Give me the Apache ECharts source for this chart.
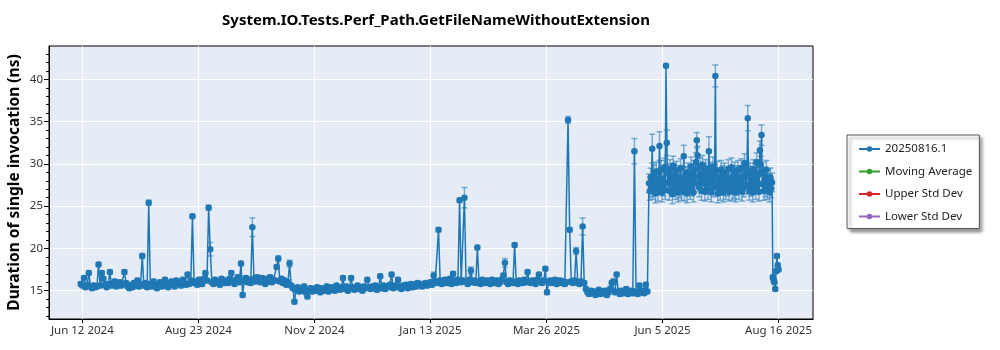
<!DOCTYPE html>
<html><head><meta charset="utf-8">
<script src="https://cdn.jsdelivr.net/npm/echarts@6/dist/echarts.min.js"></script>
<style>html,body{margin:0;padding:0;background:#fff}#c{width:1000px;height:350px}</style>
</head><body><div id="c"></div>
<script>
const chartTitle = 'System.IO.Tests.Perf_Path.GetFileNameWithoutExtension';
const yAxisTitle = 'Duration of single invocation (ns)';
const seriesNames = ['20250816.1', 'Moving Average', 'Upper Std Dev', 'Lower Std Dev'];
const seriesColors = ['#1f77b4', '#2ca02c', '#d62728', '#9467bd'];
const xTickLabels = ['Jun 12 2024', 'Aug 23 2024', 'Nov 2 2024', 'Jan 13 2025', 'Mar 26 2025', 'Jun 5 2025', 'Aug 16 2025'];
const firstTickDate = '2024-06-12';
const lastTickDate = '2025-08-16';
const yTicks = [15, 20, 25, 30, 35, 40];
const yMinorTicks = [12,13,14,16,17,18,19,21,22,23,24,26,27,28,29,31,32,33,34,36,37,38,39,41,42,43];

// daily runs 2024-06-11 .. 2025-05-27
const baseStart = '2024-06-11';
const baseVals = [
15.8,15.6,16.5,15.4,15.7,17.1,15.5,15.3,15.6,15.4,
15.5,18.1,15.6,17.1,16.4,15.7,15.4,15.8,17.2,15.6,
15.9,16.1,15.5,15.7,16.0,15.6,15.8,17.2,15.9,15.5,
15.3,15.7,15.4,15.9,15.6,16.2,15.5,15.8,19.1,15.6,
15.9,15.4,25.4,15.8,15.5,16.1,15.6,15.3,15.7,16.0,
15.5,15.8,16.3,15.6,15.4,15.9,16.1,15.7,15.5,16.2,
15.8,16.0,15.6,16.3,15.9,15.7,16.9,15.8,16.2,23.8,
15.9,16.1,15.7,16.3,16.0,15.8,16.4,17.1,16.2,24.8,
19.9,16.0,15.8,16.3,15.9,16.1,15.7,16.4,16.0,15.9,
16.2,15.9,16.4,17.1,16.1,15.8,16.3,16.6,16.0,18.2,
14.5,16.2,16.5,16.0,16.3,15.9,22.5,16.4,16.1,16.6,
16.2,16.0,16.5,16.3,15.8,16.4,16.1,16.6,16.0,16.3,
16.2,17.8,18.8,16.1,16.4,15.9,16.2,15.7,16.0,18.2,
15.6,15.3,13.7,15.1,15.4,14.9,15.2,15.0,15.5,14.8,
14.3,15.1,15.3,14.9,15.2,15.0,15.4,15.1,14.8,15.3,
15.0,15.2,15.5,14.9,15.1,15.4,15.2,15.0,15.6,15.3,
15.1,15.4,16.5,15.2,15.5,15.0,15.3,16.5,15.4,15.1,
15.3,15.6,15.2,15.4,15.0,15.5,15.3,16.3,15.4,15.2,
15.5,15.3,15.6,15.1,15.4,16.7,15.3,15.6,15.2,15.5,
15.4,15.7,16.9,15.3,15.6,15.4,16.3,15.5,15.2,15.6,
15.4,15.7,15.3,15.6,15.8,15.4,15.7,15.5,15.9,15.6,
15.8,15.5,15.7,15.9,15.6,15.8,16.0,15.7,16.8,16.1,
15.9,22.2,16.2,15.8,16.1,16.3,15.9,16.0,16.4,15.8,
17.0,16.1,15.9,16.3,25.7,16.0,16.2,26.0,16.1,15.8,
16.3,17.4,16.0,16.2,15.9,20.1,16.1,15.8,16.3,16.0,
15.9,16.2,16.0,15.8,16.3,16.1,15.9,16.2,15.8,16.0,
16.3,16.8,18.3,16.0,15.8,16.2,16.0,15.9,20.4,16.1,
15.8,16.2,16.0,15.9,16.3,16.0,17.2,16.1,15.9,16.2,
16.0,15.8,16.3,16.9,16.1,15.9,16.2,17.6,14.8,16.0,
16.2,15.9,16.1,16.3,15.8,16.0,16.2,15.9,16.1,15.8,
16.0,35.2,22.2,16.1,15.9,16.2,19.7,16.0,15.8,16.1,
22.6,15.9,15.2,14.8,14.6,15.0,14.7,14.9,14.5,14.8,
15.1,14.6,14.9,14.7,15.0,14.5,14.8,15.2,15.9,16.1,
14.8,16.9,14.9,14.6,15.0,14.7,14.9,15.2,14.6,14.8,
15.0,14.7,31.5,14.9,14.6,15.6,14.8,15.0,14.7,15.7,14.9
];

// half-daily runs 2025-05-28 .. 2025-08-12
const highStart = '2025-05-28';
const highVals = [
27.7,26.8,28.4,27.2,31.8,26.9,28.8,27.5,26.5,29.1,
27.9,26.7,28.3,32.1,27.4,29.3,26.6,28.1,27.3,29.6,
26.9,41.6,32.5,27.8,28.9,26.8,29.4,27.6,28.5,26.4,
29.8,27.3,28.7,26.9,29.2,27.8,26.6,28.4,27.1,29.5,
26.8,28.2,27.4,30.9,26.7,28.6,27.9,26.5,29.0,27.6,
28.4,26.9,29.7,27.3,28.8,26.6,29.3,27.8,30.2,32.8,
31.0,28.5,27.2,29.6,28.1,26.8,29.9,27.7,28.9,26.7,
29.4,27.5,28.6,26.9,31.5,27.8,29.1,26.6,28.3,29.7,
27.2,28.8,40.4,27.6,29.2,26.5,28.4,27.9,26.8,29.3,
27.4,28.7,26.6,29.0,27.8,26.9,28.5,27.3,29.4,26.7,
28.1,27.5,29.6,26.8,28.3,27.0,29.1,26.6,28.7,27.4,
29.3,26.9,28.0,27.6,29.5,26.7,28.4,27.2,30.1,28.8,
27.5,29.2,35.4,28.6,26.8,29.0,27.3,28.5,26.6,29.4,
27.8,28.9,26.9,30.2,27.5,28.7,26.7,31.6,29.8,33.4,
27.6,29.1,26.8,28.5,27.2,29.3,26.9,28.2,27.7,26.6,
28.4,27.1,27.8
];

// half-daily runs 2025-08-12 12:00 .. 2025-08-16
const tailStart = '2025-08-12T12:00:00Z';
const tailVals = [16.6,16.2,16.0,15.2,17.3,19.1,18.0,17.5];

// error bar half-widths (ns)
const baseErr = 0.25;
const highErr = 1.1;
const errByDay = {
  37:0.3, 41:0.3, 78:0.3, 79:0.8, 105:1.1, 121:0.3, 128:0.4, 217:0.4, 236:1.2, 240:0.4,
  261:0.5, 300:0.4, 305:0.4, 309:1.0, 341:1.5,
  352:1.7, 356.5:1.7, 360.5:0.2, 361:1.5, 371.5:1.3, 379.5:0.9, 387:1.7, 391:1.3, 411:1.5, 419.5:1.2
};

const DAY = 86400000;
const t0 = Date.parse(firstTickDate);
const tickSpan = (Date.parse(lastTickDate) - t0) / DAY;
const xTickValues = xTickLabels.map((_, i) => i * tickSpan / (xTickLabels.length - 1));

const points = [];
function addRun(start, step, vals, defErr) {
  const s = (Date.parse(start) - t0) / DAY;
  vals.forEach((v, i) => {
    const x = Math.round((s + i * step) * 2) / 2;
    const e = errByDay[x] !== undefined ? errByDay[x] : defErr;
    points.push([x, v, e]);
  });
}
addRun(baseStart, 1, baseVals, baseErr);
addRun(highStart, 0.5, highVals, highErr);
addRun(tailStart, 0.5, tailVals, baseErr);

const FONT = 'Noto Sans';
const X_MIN = -20.6, X_MAX = 451.3, Y_MIN = 11.65, Y_MAX = 43.94;

const chart = echarts.init(document.getElementById('c'), null, {renderer: 'canvas'});
chart.setOption({
  animation: false,
  backgroundColor: '#ffffff',
  title: {
    text: chartTitle, left: 431, top: 8, textAlign: 'center',
    textStyle: {fontFamily: FONT, fontSize: 15, fontWeight: 'bold', color: '#000'}
  },
  grid: {left: 49, right: 187, top: 46, bottom: 31, show: true, backgroundColor: '#e5ecf6',
         borderColor: '#000', borderWidth: 1, containLabel: false, outerBoundsMode: 'none'},
  legend: {
    orient: 'vertical', left: 847, top: 135,
    data: seriesNames,
    itemWidth: 21, itemHeight: 7, itemGap: 10.5,
    padding: [8, 7, 6, 11],
    backgroundColor: '#fff', borderColor: '#555', borderWidth: 1,
    shadowColor: 'rgba(0,0,0,0.4)', shadowBlur: 3, shadowOffsetX: 3, shadowOffsetY: 3,
    textStyle: {fontFamily: FONT, fontSize: 11.5, color: '#222'}
  },
  xAxis: {
    type: 'value', min: X_MIN, max: X_MAX,
    axisLine: {show: true, onZero: false, lineStyle: {color: '#000', width: 1}},
    axisTick: {show: true, length: 4, lineStyle: {color: '#000'}, customValues: xTickValues},
    axisLabel: {
      customValues: xTickValues, color: '#333', fontFamily: FONT, fontSize: 11.5, margin: 6,
      formatter: v => xTickLabels[Math.round(v * (xTickLabels.length - 1) / tickSpan)]
    },
    splitLine: {show: true, lineStyle: {color: '#fff', width: 1}}
  },
  yAxis: [{
    type: 'value', min: Y_MIN, max: Y_MAX,
    name: yAxisTitle, nameLocation: 'middle', nameGap: 26, nameMoveOverlap: false,
    nameTextStyle: {fontFamily: FONT, fontSize: 15.5, fontWeight: 'bold', color: '#000'},
    axisLine: {show: true, onZero: false, lineStyle: {color: '#000', width: 1}},
    axisTick: {show: true, length: 5, lineStyle: {color: '#000'}, customValues: yTicks},
    axisLabel: {customValues: yTicks, color: '#333', fontFamily: FONT, fontSize: 11.5, margin: 6},
    splitLine: {show: true, lineStyle: {color: '#fff', width: 1}}
  }, {
    type: 'value', min: Y_MIN, max: Y_MAX, position: 'left',
    axisLine: {show: false, onZero: false},
    axisTick: {show: true, length: 3, lineStyle: {color: '#000'}, customValues: yMinorTicks},
    axisLabel: {show: false, customValues: yMinorTicks},
    splitLine: {show: false}
  }],
  series: [{
    type: 'custom', name: 'errorbars', z: 1, silent: true, clip: true,
    data: points.map(p => [p[0], p[1] - p[2], p[1] + p[2]]),
    encode: {x: 0, y: [1, 2]},
    renderItem: (params, api) => {
      const x = api.value(0);
      const a = api.coord([x, api.value(1)]);
      const b = api.coord([x, api.value(2)]);
      const w = 3;
      const style = {stroke: 'rgba(31,119,180,0.55)', lineWidth: 1.5};
      return {type: 'group', children: [
        {type: 'line', shape: {x1: a[0], y1: a[1], x2: b[0], y2: b[1]}, style},
        {type: 'line', shape: {x1: a[0] - w, y1: a[1], x2: a[0] + w, y2: a[1]}, style},
        {type: 'line', shape: {x1: b[0] - w, y1: b[1], x2: b[0] + w, y2: b[1]}, style}
      ]};
    }
  }].concat(seriesNames.map((n, i) => ({
    type: 'line', name: n, z: 2,
    data: i === 0 ? points.map(p => [p[0], p[1]]) : [],
    symbol: 'circle', symbolSize: 6.5,
    lineStyle: {color: seriesColors[i], width: 1.5},
    itemStyle: {color: seriesColors[i]},
    emphasis: {disabled: true}
  })))
});
</script></body></html>
